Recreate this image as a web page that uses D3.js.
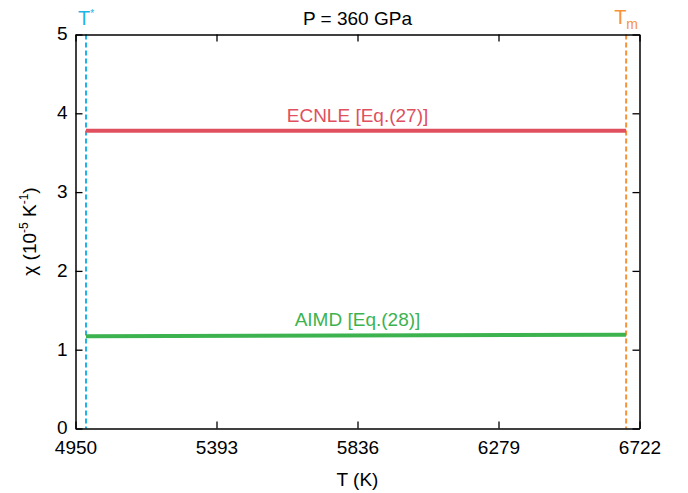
<!DOCTYPE html>
<html><head><meta charset="utf-8">
<script src="https://cdn.jsdelivr.net/npm/d3@7"></script>
<style>body{margin:0;background:#fff}svg{display:block}text{font-family:"Liberation Sans",Arial,sans-serif}</style>
</head><body><svg id="c" width="688" height="493"></svg>
<script>
const xTicks = [4950, 5393, 5836, 6279, 6722];
const yTicks = [0, 1, 2, 3, 4, 5];
const tempPoints = [4983, 6680];
const ecnleValues = [3.78, 3.78];
const aimdValues = [1.17, 1.19];
const tStar = 4983;
const tMelt = 6680;
const title = "P = 360 GPa";

const W = 688, H = 493;
const m = {l: 75.5, r: 48.5, t: 34.5, b: 64.5};
const svg = d3.select("#c");
const x = d3.scaleLinear().domain([4950, 6722]).range([m.l, W - m.r]);
const y = d3.scaleLinear().domain([0, 5]).range([H - m.b, m.t]);
const fs = 19;

// guide lines
[[tStar, "#1fb3e8"], [tMelt, "#f7923a"]].forEach(([t, c]) => {
  svg.append("line").attr("x1", x(t)).attr("x2", x(t)).attr("y1", y(5)).attr("y2", y(0))
    .attr("stroke", c).attr("stroke-width", 2).attr("stroke-dasharray", "5,3");
});

// series
const line = d3.line().x((d, i) => x(tempPoints[i])).y(d => y(d));
svg.append("path").datum(ecnleValues).attr("d", line).attr("fill", "none").attr("stroke", "#e0505f").attr("stroke-width", 4);
svg.append("path").datum(aimdValues).attr("d", line).attr("fill", "none").attr("stroke", "#3cb34f").attr("stroke-width", 4);

// axes
const tl = 7;
const gB = svg.append("g").attr("transform", `translate(0,${y(0)})`)
  .call(d3.axisBottom(x).tickValues(xTicks).tickFormat(d3.format("d")).tickSizeInner(-tl).tickSizeOuter(0).tickPadding(6));
const gT = svg.append("g").attr("transform", `translate(0,${y(5)})`)
  .call(d3.axisTop(x).tickValues(xTicks).tickFormat("").tickSizeInner(-tl).tickSizeOuter(0));
const gL = svg.append("g").attr("transform", `translate(${x(4950)},0)`)
  .call(d3.axisLeft(y).tickValues(yTicks).tickFormat(d3.format("d")).tickSizeInner(-tl).tickSizeOuter(0).tickPadding(6));
const gR = svg.append("g").attr("transform", `translate(${x(6722)},0)`)
  .call(d3.axisRight(y).tickValues(yTicks).tickFormat("").tickSizeInner(-tl).tickSizeOuter(0));
[gB, gT, gL, gR].forEach(g => {
  g.select(".domain").attr("stroke", "#000").attr("stroke-width", 1.5);
  g.selectAll(".tick line").attr("stroke", "#000").attr("stroke-width", 1.3);
  g.selectAll("text").attr("font-size", fs).attr("fill", "#000").attr("font-family", '"Liberation Sans",Arial,sans-serif');
});
gB.selectAll(".tick text").attr("y", 12).attr("dy", "0.71em");
gL.selectAll(".tick text").attr("dx", "-2").attr("dy", "0.28em");

// series labels
const midT = (4950 + 6722) / 2;
svg.append("text").attr("x", x(midT)).attr("y", y(ecnleValues[0]) - 9).attr("text-anchor", "middle")
  .attr("font-size", fs).attr("fill", "#e0505f").text("ECNLE [Eq.(27)]");
svg.append("text").attr("x", x(midT)).attr("y", y(d3.mean(aimdValues)) - 10).attr("text-anchor", "middle")
  .attr("font-size", fs).attr("fill", "#3cb34f").text("AIMD [Eq.(28)]");

// title
svg.append("text").attr("x", x(midT)).attr("y", 25).attr("text-anchor", "middle").attr("font-size", 19).attr("fill", "#000").text(title);

// T* and Tm labels
const ts = svg.append("text").attr("x", x(tStar) - 8).attr("y", 25).attr("font-size", 20).attr("fill", "#1fb3e8");
ts.append("tspan").text("T");
ts.append("tspan").attr("dy", -8).attr("font-size", 10).text("*");
const tm = svg.append("text").attr("x", x(tMelt) - 12).attr("y", 24).attr("font-size", 20).attr("fill", "#f7923a");
tm.append("tspan").text("T");
tm.append("tspan").attr("dy", 5).attr("font-size", 14).text("m");

// axis titles
svg.append("text").attr("x", x(midT)).attr("y", 486).attr("text-anchor", "middle").attr("font-size", 19).attr("fill", "#000").text("T (K)");
const yl = svg.append("text").attr("transform", `translate(36,${(y(0) + y(5)) / 2}) rotate(-90)`).attr("text-anchor", "middle").attr("font-size", 19).attr("fill", "#000");
yl.append("tspan").text("χ (10");
yl.append("tspan").attr("dy", -8).attr("font-size", 12).text("-5");
yl.append("tspan").attr("dy", 8).text(" K");
yl.append("tspan").attr("dy", -8).attr("font-size", 12).text("-1");
yl.append("tspan").attr("dy", 8).text(")");
</script></body></html>
